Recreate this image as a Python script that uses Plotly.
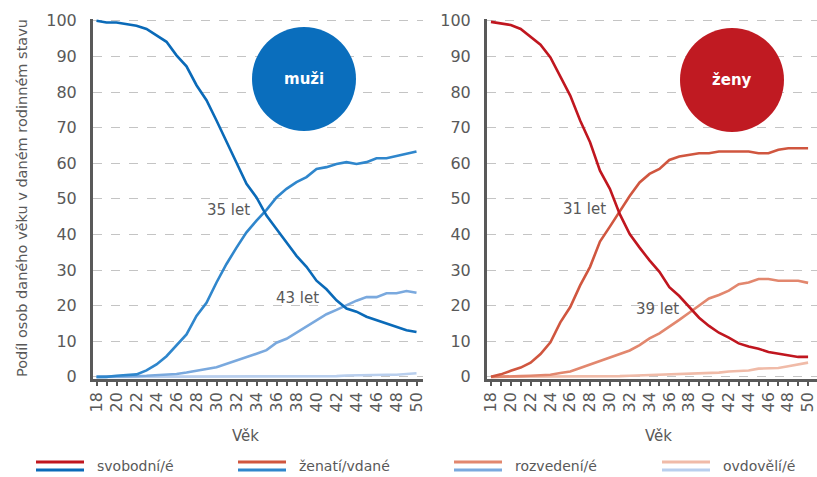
import plotly.graph_objects as go
from plotly.subplots import make_subplots

W, H = 817, 477

ages = list(range(18, 51))

# muži
men_single = [100, 99.5, 99.5, 99.1, 98.6, 97.7, 96.0, 94.1, 90.3, 87.2, 81.9, 77.7, 72.0,
              65.9, 60.3, 54.2, 50.4, 45.3, 41.5, 37.7, 34.0, 30.9, 27.0, 24.6, 21.5,
              19.2, 18.3, 16.9, 16.0, 15.0, 14.1, 13.1, 12.6]
men_married = [0, 0, 0.3, 0.4, 0.7, 1.8, 3.5, 5.8, 8.9, 11.9, 17.1, 20.8, 26.5, 31.7, 36.3,
               40.6, 43.9, 46.9, 50.4, 52.8, 54.7, 56.1, 58.4, 58.9, 59.8, 60.3, 59.8, 60.3,
               61.4, 61.4, 62.0, 62.6, 63.3]
men_divorced = [0, 0, 0.1, 0.2, 0.2, 0.3, 0.4, 0.6, 0.8, 1.2, 1.8, 2.2, 2.7, 3.6, 4.6, 5.6,
                6.5, 7.5, 9.6, 10.7, 12.4, 14.3, 16.0, 17.6, 18.8, 20.2, 21.4, 22.4, 22.4,
                23.5, 23.5, 24.1, 23.6]
men_widowed = [0, 0, 0, 0, 0, 0, 0, 0, 0, 0, 0, 0, 0, 0, 0, 0, 0, 0.1, 0.1, 0.1, 0.1, 0.1,
               0.1, 0.1, 0.2, 0.4, 0.5, 0.5, 0.5, 0.6, 0.6, 0.7, 1.0]

# ženy
women_single = [99.7, 99.2, 98.8, 97.7, 95.5, 93.3, 89.7, 84.2, 79.0, 72.0, 65.9, 57.9, 52.8,
                45.7, 40.1, 36.3, 32.7, 29.5, 25.2, 22.7, 19.6, 16.6, 14.3, 12.4, 11.0, 9.4,
                8.5, 7.9, 7.0, 6.5, 6.1, 5.6, 5.6]
women_married = [0, 0.7, 1.7, 2.6, 4.0, 6.4, 9.7, 15.3, 19.6, 25.7, 30.9, 38.0, 42.2, 46.4,
                 50.8, 54.6, 57.0, 58.4, 60.9, 61.9, 62.3, 62.8, 62.8, 63.3, 63.3, 63.3,
                 63.3, 62.8, 62.8, 63.8, 64.2, 64.2, 64.2]
women_divorced = [0, 0, 0.1, 0.2, 0.3, 0.5, 0.6, 1.1, 1.5, 2.5, 3.5, 4.4, 5.4, 6.3, 7.4, 8.9,
                  10.8, 12.2, 14.0, 16.0, 18.0, 20.1, 22.0, 23.0, 24.2, 26.0, 26.5, 27.5,
                  27.5, 27.0, 27.0, 27.0, 26.4]
women_widowed = [0, 0, 0, 0, 0, 0, 0, 0, 0, 0.1, 0.1, 0.1, 0.2, 0.2, 0.3, 0.4, 0.5, 0.5, 0.5,
                 0.6, 0.8, 1.0, 1.1, 1.2, 1.5, 1.6, 1.8, 2.3, 2.5, 2.5, 3.0, 3.5, 4.0]

labels = ['svobodní/é', 'ženatí/vdané', 'rozvedení/é', 'ovdovělí/é']
blues = ['#0a6ab8', '#2f86cc', '#7aa9de', '#b9cfee']
reds = ['#c0161f', '#d0563f', '#e2876e', '#f0bba8']

# crossing labels (age, share)
men_notes = [(31.2, 46.9, '35 let'), (38.1, 22.1, '43 let')]
women_notes = [(27.4, 47.2, '31 let'), (34.8, 19.0, '39 let')]

FONT = '"DejaVu Sans", sans-serif'
GREY = '#595959'

fig = make_subplots(rows=1, cols=2)

men = [men_single, men_married, men_divorced, men_widowed]
women = [women_single, women_married, women_divorced, women_widowed]
for i in range(3, -1, -1):
    fig.add_trace(go.Scatter(x=ages, y=men[i], mode='lines', name=labels[i],
                             line=dict(color=blues[i], width=2.6), showlegend=False), 1, 1)
    fig.add_trace(go.Scatter(x=ages, y=women[i], mode='lines', name=labels[i],
                             line=dict(color=reds[i], width=2.6), showlegend=False), 1, 2)

top, bot = 19, 98
ph = H - top - bot


def py(p):
    # pixel row -> paper y
    return (H - bot - p) / ph


def px(p):
    return p / W


xa = dict(tickmode='linear', tick0=18, dtick=2, tickangle=-90,
          ticks='outside', ticklen=4, tickwidth=2, tickcolor=GREY,
          minor=dict(dtick=1, ticks='outside', ticklen=4, tickwidth=2, tickcolor=GREY),
          showline=True, linecolor=GREY, linewidth=2.5, showgrid=False, zeroline=False,
          automargin=False, ticklabeloverflow='allow',
          tickfont=dict(size=16, color=GREY, family=FONT))
ya = dict(range=[-0.6, 100.5], tickmode='linear', tick0=0, dtick=10,
          showline=True, linecolor=GREY, linewidth=3, ticks='', ticklabelstandoff=10,
          showgrid=True, gridcolor='#c4c4c4', griddash='dash', gridwidth=1, zeroline=False,
          automargin=False, tickfont=dict(size=16, color=GREY, family=FONT))

fig.update_xaxes(xa)
fig.update_yaxes(ya)
fig.update_xaxes(domain=[px(93), px(423)], range=[17.65, 50.65], row=1, col=1)
fig.update_xaxes(domain=[px(487), 1.0], range=[17.6, 50.9], row=1, col=2)

ann = []
for x, y, t in men_notes:
    ann.append(dict(x=x, y=y, xref='x', yref='y', text=t, showarrow=False,
                    font=dict(size=15, color=GREY, family=FONT)))
for x, y, t in women_notes:
    ann.append(dict(x=x, y=y, xref='x2', yref='y2', text=t, showarrow=False,
                    font=dict(size=15, color=GREY, family=FONT)))

ann.append(dict(x=px(22), y=py(198), xref='paper', yref='paper', textangle=-90,
                xanchor='center', yanchor='middle',
                text='Podíl osob daného věku v daném rodinném stavu', showarrow=False,
                font=dict(size=14.5, color=GREY, family=FONT)))
for cx in (245, 658):
    ann.append(dict(x=px(cx), y=py(436), xref='paper', yref='paper', text='Věk',
                    xanchor='center', yanchor='middle',
                    showarrow=False, font=dict(size=15, color=GREY, family=FONT)))

shapes = []
# circles with sex labels
for cx, cy, col, t in ((304, 79, '#0a6ebd', 'muži'), (732, 80, '#c01a22', 'ženy')):
    r = 52
    shapes.append(dict(type='circle', xref='paper', yref='paper',
                       x0=px(cx - r), x1=px(cx + r), y0=py(cy + r), y1=py(cy - r),
                       fillcolor=col, line=dict(width=0)))
    ann.append(dict(x=px(cx), y=py(cy), xref='paper', yref='paper', text='<b>%s</b>' % t,
                    xanchor='center', yanchor='middle',
                    showarrow=False, font=dict(size=15, color='white', family=FONT)))

# legend: red over blue sample for each status
leg_x = [36, 238, 454, 662]
for i, lx in enumerate(leg_x):
    for yy, col in ((462, reds[i]), (470, blues[i])):
        shapes.append(dict(type='line', xref='paper', yref='paper',
                           x0=px(lx), x1=px(lx + 48), y0=py(yy), y1=py(yy),
                           line=dict(color=col, width=3)))
    ann.append(dict(x=px(lx + 59), y=py(466), xref='paper', yref='paper', text=labels[i],
                    xanchor='left', yanchor='middle', showarrow=False,
                    font=dict(size=14, color=GREY, family=FONT)))

fig.update_layout(
    width=W, height=H,
    margin=dict(l=0, r=0, t=top, b=bot),
    plot_bgcolor='white', paper_bgcolor='white',
    annotations=ann, shapes=shapes,
    showlegend=False,
    font=dict(family=FONT, color=GREY),
)

fig.write_html("out.html", config={'displayModeBar': False},
               post_script="document.body.style.margin = '0';")
